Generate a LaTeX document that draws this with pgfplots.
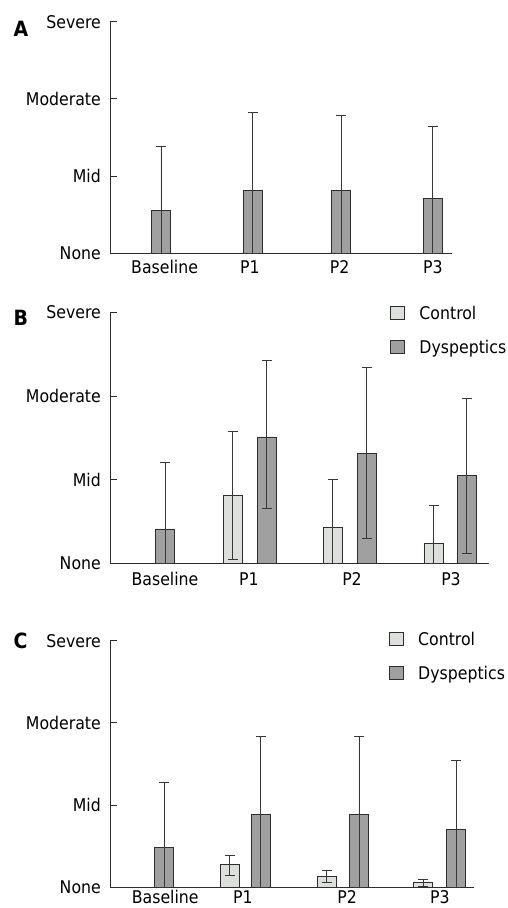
\documentclass[border=0pt]{standalone}
\usepackage{fontspec}
\setmainfont{DejaVu Sans Condensed}
\usepackage{pgfplots}
\usepackage{pgfplotstable}
\pgfplotsset{compat=1.18}

\definecolor{darkbar}{RGB}{160,160,160}
\definecolor{lightbar}{RGB}{221,223,221}
\definecolor{edge}{RGB}{45,45,45}
\definecolor{errline}{RGB}{55,55,55}

% x: category position, y: mean, ep/em: error up/down
\pgfplotstableread{
x     y     ep    em
0     0.56  0.82  0.56
1.01  0.81  1.02  0.81
1.99  0.81  0.98  0.81
3.00  0.71  0.93  0.71
}\tabA

\pgfplotstableread{
x     y     ep    em
0.677 0.81  0.77  0.77
1.677 0.43  0.57  0.43
2.688 0.24  0.45  0.24
}\tabBctrl

\pgfplotstableread{
x     y     ep    em
0     0.41  0.79  0.41
1.017 1.51  0.91  0.86
2.017 1.31  1.03  1.01
3.017 1.05  0.92  0.93
}\tabBdys

\pgfplotstableread{
x     y     ep    em
0.678 0.28  0.11  0.13
1.678 0.13  0.07  0.07
2.672 0.06  0.04  0.05
}\tabCctrl

\pgfplotstableread{
x     y     ep    em
0     0.49  0.78  0.49
0.998 0.89  0.94  0.89
2.010 0.89  0.94  0.89
3.013 0.70  0.84  0.70
}\tabCdys

\newcommand{\lblfont}{\fontsize{17.5bp}{20bp}\selectfont}
\newcommand{\panelfont}{\bfseries\fontsize{21bp}{24bp}\selectfont}

\pgfplotsset{
  panel/.style={
    scale only axis, anchor=south west,
    axis lines=left,
    axis line style={-, draw=edge, line width=0.8bp},
    ymin=0, ymax=3,
    ytick={0,1,2,3}, yticklabels={None,Mid,Moderate,Severe},
    tick align=inside, major tick length=7bp,
    ytick style={draw=edge, line width=0.8bp},
    xtick style={draw=none},
    yticklabel style={anchor=east, inner sep=0pt, xshift=-9bp},
    xticklabel style={anchor=north, inner sep=0pt},
    tick label style={font=\lblfont},
    xticklabels={Baseline,P1,P2,P3},
    ybar, bar width=19bp, bar shift=0pt,
    clip=false,
    legend style={draw=none, fill=none, inner sep=0pt, outer sep=0pt,
      anchor=north west, column sep=0pt, row sep=16.7bp,
      cells={anchor=base west}, font=\lblfont,
      nodes={inner sep=0pt, text height=12bp, text depth=4bp}},
  },
  bars/.style={draw=edge, line width=0.8bp, fill=#1,
    error bars/.cd, y dir=both, y explicit,
    error bar style={draw=errline, line width=0.9bp},
    error mark=-,
    error mark options={rotate=90, draw=errline, line width=0.9bp, mark size=5bp},
    /pgfplots/.cd,
  },
  keybox/.style={legend image code/.code={
    \draw[draw=edge, line width=0.8bp, fill=#1] (0bp,0bp) rectangle (14bp,13bp);
    \path[draw=none, fill=none] (14bp,0bp) -- (29bp,0bp);}},
}

\begin{document}
\begin{tikzpicture}
\path[use as bounding box] (0,0) rectangle (508bp,908bp);

% ---- A ----
\begin{axis}[panel, at={(110bp,654.7bp)}, width=342bp, height=231.6bp,
    xmin=-0.5625, xmax=3.2106, xtick={0.04,0.98,1.97,3}]
\addplot[bars=darkbar] table[x=x, y=y, y error plus=ep, y error minus=em] {\tabA};
\end{axis}

% ---- B ----
\begin{axis}[panel, at={(110bp,344.7bp)}, width=379bp, height=251bp,
    xmin=-0.55, xmax=3.24, xtick={0,0.84,1.87,2.86},
    xticklabel style={yshift=-2bp},
    legend style={at={(0.739,1.026)}}]
\addplot[keybox=lightbar, bars=lightbar] table[x=x, y=y, y error plus=ep, y error minus=em] {\tabBctrl};
\addplot[keybox=darkbar, bars=darkbar] table[x=x, y=y, y error plus=ep, y error minus=em] {\tabBdys};
\legend{Control, Dyspeptics}
\end{axis}

% ---- C ----
\begin{axis}[panel, at={(110bp,20.7bp)}, width=364bp, height=246.6bp,
    xmin=-0.557, xmax=3.196, xtick={0.013,0.814,1.887,2.845},
    xticklabel style={yshift=4bp, text depth=0pt},
    legend style={at={(0.766,1.034)}}]
\addplot[keybox=lightbar, bars=lightbar] table[x=x, y=y, y error plus=ep, y error minus=em] {\tabCctrl};
\addplot[keybox=darkbar, bars=darkbar] table[x=x, y=y, y error plus=ep, y error minus=em] {\tabCdys};
\legend{Control, Dyspeptics}
\end{axis}

\node[anchor=base west, font=\panelfont] at (10bp,871bp) {A};
\node[anchor=base west, font=\panelfont] at (10bp,582bp) {B};
\node[anchor=base west, font=\panelfont] at (10bp,259bp) {C};
\end{tikzpicture}
\end{document}
